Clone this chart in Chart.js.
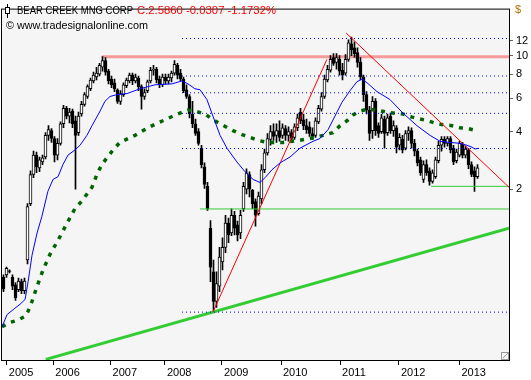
<!DOCTYPE html>
<html><head><meta charset="utf-8">
<script src="https://cdn.jsdelivr.net/npm/chart.js@4/dist/chart.umd.min.js"></script>
<style>html,body{margin:0;padding:0;background:#fff}</style>
</head><body>
<canvas id="c" width="531" height="380"></canvas>
<script>
// ---- data (x unit = bar number, weekly-ish bars) ----
const titleName = 'BEAR CREEK MNG CORP';
const titleQuote = 'C:2.5860 -0.0307 -1.1732%';
const copyright = '\u00A9 www.tradesignalonline.com';
const currency = '$';

// [open, high, low, close]
const candles = [
[0.69,0.71,0.58,0.60],[0.71,0.78,0.69,0.77],[0.746,0.755,0.728,0.74],[0.69,0.71,0.595,0.62],
[0.63,0.647,0.522,0.54],[0.595,0.684,0.58,0.66],[0.655,0.676,0.567,0.588],[0.588,0.684,0.567,0.66],
[0.85,1.68,0.81,1.62],[1.68,2.50,1.64,2.39],[2.39,3.17,2.30,3.02],[3.02,3.13,2.44,2.62],
[2.59,2.95,2.47,2.85],[2.78,3.02,2.69,2.92],[2.95,3.96,2.88,3.83],[3.83,4.31,3.61,4.11],
[4.06,4.16,3.52,3.69],[3.69,3.78,2.78,3.02],[3.02,3.69,2.85,3.48],[3.48,4.51,3.40,4.41],
[4.41,5.51,4.20,5.32],[5.32,5.45,4.67,4.84],[4.84,5.32,4.46,5.07],[5.14,5.26,4.20,4.41],
[4.57,4.84,2.00,3.83],[3.96,5.07,3.83,4.84],[4.96,5.78,4.84,5.57],[5.57,6.42,5.45,6.27],
[6.13,7.06,5.98,6.90],[6.73,7.66,6.58,7.48],[7.40,8.23,7.23,7.94],[7.76,8.73,7.48,8.13],
[8.03,9.15,7.85,8.93],[8.73,9.93,8.32,9.47],[9.47,9.82,7.94,8.23],[8.32,8.52,7.14,7.40],
[7.57,7.85,6.81,7.06],[7.23,7.57,6.50,6.73],[6.65,6.73,5.64,5.78],[5.78,6.58,5.57,6.35],
[6.27,7.23,6.13,7.06],[6.98,7.66,6.81,7.48],[7.40,8.13,7.23,7.94],[7.94,8.13,7.06,7.40],
[7.40,8.03,7.23,7.76],[7.66,7.85,6.58,6.90],[6.90,7.06,5.26,6.13],[6.13,6.73,5.91,6.42],
[6.58,7.48,6.42,7.32],[7.40,8.73,7.23,8.42],[8.42,8.93,7.94,8.52],[8.52,8.73,7.23,7.48],
[7.57,7.85,6.81,7.06],[7.06,8.03,6.90,7.76],[7.76,8.03,7.14,7.40],[7.40,8.03,7.14,7.76],
[7.66,8.32,7.32,8.13],[8.13,9.47,7.94,9.04],[8.93,9.15,7.57,7.94],[8.13,8.52,7.40,7.57],
[7.57,7.76,6.42,6.58],[6.65,7.06,5.98,6.13],[6.13,6.27,4.73,4.96],[4.96,5.78,4.20,4.41],
[4.41,4.67,3.83,3.92],[4.01,4.16,3.40,3.48],[3.28,3.40,2.59,2.69],[2.62,2.75,2.02,2.12],
[2.07,2.17,1.55,1.58],[1.25,1.37,0.655,0.78],[0.737,0.85,0.453,0.516],[0.516,0.737,0.48,0.64],
[0.62,0.99,0.58,0.88],[0.83,1.11,0.755,0.99],[0.99,1.46,0.93,1.33],[1.33,1.41,1.05,1.15],
[1.18,1.58,1.14,1.46],[1.46,1.53,1.15,1.25],[1.30,1.36,1.07,1.15],[1.18,1.55,1.10,1.46],
[1.58,2.17,1.53,2.07],[2.00,2.56,1.89,2.44],[2.39,2.47,1.82,2.00],[1.98,2.00,1.58,1.68],
[1.72,1.78,1.28,1.46],[1.49,1.93,1.46,1.84],[1.78,2.69,1.68,2.53],[2.53,3.25,2.44,3.10],
[3.10,3.92,3.02,3.69],[3.65,4.31,3.40,4.01],[4.01,4.41,3.61,3.78],[3.83,4.41,3.52,4.06],
[4.06,4.57,3.57,3.74],[3.83,4.41,3.69,4.20],[4.16,4.31,3.61,3.83],[3.83,4.25,3.57,4.01],
[3.96,4.11,3.52,3.69],[3.74,4.41,3.65,4.25],[4.20,4.96,4.06,4.73],[5.07,5.32,4.41,4.57],
[4.62,4.96,4.11,4.31],[4.31,4.67,3.92,4.11],[4.25,4.51,3.78,3.92],[3.92,4.20,3.65,3.78],
[3.83,4.73,3.74,4.57],[4.51,5.51,4.41,5.32],[5.26,6.42,5.14,6.13],[6.13,7.94,5.98,7.57],
[7.48,8.93,7.32,8.52],[8.42,10.05,8.23,9.59],[9.82,10.29,8.93,9.15],[9.26,10.29,8.52,9.82],
[9.59,10.05,7.94,8.32],[8.42,9.15,7.48,7.94],[8.13,10.17,7.94,9.59],[9.59,12.14,9.36,11.72],
[11.58,12.58,10.05,10.79],[11.05,11.85,9.82,10.29],[10.42,11.05,8.73,9.26],[9.26,9.82,7.48,7.76],
[7.76,7.94,5.78,6.27],[6.27,6.50,4.96,5.20],[5.20,5.45,3.61,3.92],[4.06,6.13,3.69,5.78],
[5.78,5.98,3.83,4.06],[4.31,4.46,3.74,3.92],[4.01,4.96,3.92,4.73],[4.67,4.84,3.28,3.92],
[3.96,4.96,3.83,4.73],[4.84,5.01,3.92,4.06],[4.06,4.57,3.78,4.31],[4.20,4.31,3.10,3.32],
[3.40,3.92,3.21,3.74],[3.65,3.83,3.10,3.21],[3.28,4.06,3.21,3.92],[3.92,4.25,3.61,4.06],
[4.06,4.20,3.28,3.48],[3.48,3.65,2.99,3.17],[3.17,3.25,2.65,2.75],[2.85,2.95,2.36,2.44],
[2.25,2.82,2.17,2.69],[2.69,2.85,2.36,2.44],[2.50,2.59,2.10,2.20],[2.20,2.53,2.15,2.44],
[2.33,2.95,2.28,2.85],[2.82,3.57,2.75,3.40],[3.40,3.78,3.17,3.65],[3.65,3.78,3.32,3.48],
[3.48,3.78,3.36,3.69],[3.69,3.78,3.10,3.21],[3.28,3.40,2.69,2.78],[2.82,3.25,2.75,3.13],
[3.02,3.57,2.95,3.48],[3.44,3.52,2.92,3.02],[3.02,3.36,2.92,3.25],[3.21,3.28,2.56,2.69],
[2.69,2.78,2.33,2.39],[2.50,2.62,1.95,2.33],[2.33,2.69,2.28,2.586]
];

const yearLabels = ['2005','2006','2007','2008','2009','2010','2011','2012','2013'];
const yearBars   = [1.1, 16.6, 35.7, 53.8, 72.8, 92.5, 112.2, 131.8, 152.0];
const priceTicks = [2, 4, 6, 8, 10, 12];

const fastMaBar = [-0.5,1.2,3.8,5.5,7.2,8.2,9.5,11.2,12.8,14.8,16.5,18.2,19.8,21.5,23.8,25.5,27.8,29.5,32.2,33.8,35.5,37.8,41.2,45.5,50.5,56.2,59.5,61.5,63.8,65.5,67.8,69.8,72.2,74.5,77.8,80.5,83.2,85.5,87.2,89.5,92.2,95.5,98.8,103.2,105.5,108.2,110.5,112.8,115.5,117.8,119.5,121.2,124.5,128.8,133.2,137.8,142.2,145.5,148.8,152.2,154.5,156.2,157.2,158.2];
const fastMaVal = [0.38,0.44,0.475,0.498,0.528,0.655,0.90,1.18,1.44,1.95,2.25,2.33,2.69,3.02,3.21,3.40,3.83,4.31,5.14,5.78,6.13,6.27,6.35,6.73,7.06,7.14,7.40,7.14,6.73,6.65,5.91,4.84,3.83,3.28,2.78,2.47,2.25,2.17,2.30,2.53,2.75,2.95,3.28,3.57,3.69,4.11,4.84,5.71,6.58,7.32,7.57,7.23,6.50,5.91,5.01,4.31,3.83,3.57,3.52,3.48,3.40,3.32,3.25,3.28];

const slowMaBar = [-0.5,2.2,4.5,7.2,8.2,9.5,11.2,13.2,15.5,18.2,21.2,23.8,26.2,29.5,31.5,33.2,36.5,38.8,43.8,46.5,48.8,51.5,53.8,56.5,58.8,61.5,63.8,67.2,69.5,72.2,76.5,79.5,82.2,84.8,87.8,90.5,93.2,96.2,98.8,102.2,106.5,109.8,112.2,114.5,116.5,118.8,121.5,124.5,127.8,130.5,133.2,136.2,138.8,141.5,144.5,146.5,149.5,152.2,154.8,157.8];
const slowMaVal = [0.38,0.40,0.41,0.43,0.458,0.516,0.62,0.755,0.91,1.08,1.33,1.58,1.74,2.05,2.47,2.75,3.21,3.52,3.83,4.06,4.25,4.46,4.62,4.84,5.01,5.20,5.14,4.96,4.67,4.41,4.06,3.87,3.74,3.61,3.52,3.52,3.52,3.57,3.61,3.69,3.83,3.96,4.31,4.57,4.90,5.14,5.26,5.20,5.07,5.01,4.96,4.78,4.67,4.57,4.41,4.36,4.31,4.20,4.16,4.06];

// horizontal levels (dotted), starting bar
const levelValues = [12.35, 7.85, 6.41, 5.0, 3.27, 0.453];
const levelFromBar = 59.5;
const lastBar = 168.5;
// trendlines: [bar, price] endpoints
const riseLine = [[69.8, 0.453], [107.8, 9.59]];
const fallLine = [[114.2, 13.2], [168.5, 2.048]];
const longSupport = [[14.1, 0.256], [168.5, 1.248]];
const resistance = [[32.8, 9.9], [168.5, 9.9]];
const support1 = [[65.5, 1.575], [168.5, 1.575]];
const support2 = [[142.5, 2.07], [168.5, 2.07]];

// ---- build datasets ----
const pts = (bars, vals) => bars.map((b, i) => ({x: b, y: vals[i]}));
const seg = s => s.map(p => ({x: p[0], y: p[1]}));
const lineDs = (data, color, width, dash, order) => ({
  type: 'line', data, borderColor: color, borderWidth: width, borderDash: dash || [],
  pointRadius: 0, fill: false, tension: 0, order
});

const datasets = [];
datasets.push({
  type: 'bar', data: candles.map((c, i) => ({x: i, y: [c[2], c[1]]})),
  backgroundColor: '#000', borderWidth: 0, barThickness: 1, grouped: false, order: 3
});
datasets.push({
  type: 'bar', data: candles.map((c, i) => ({x: i, y: [c[0], c[3]]})),
  backgroundColor: ctx => { const c = candles[ctx.dataIndex]; return c && c[3] > c[0] ? '#ffffff' : '#000000'; },
  borderColor: '#000', borderWidth: 1, borderSkipped: false, barThickness: 3, grouped: false, order: 2
});
datasets.push(lineDs(seg(resistance), '#f79a9a', 3, null, 4));
levelValues.forEach(v => datasets.push(lineDs([{x: levelFromBar, y: v}, {x: lastBar, y: v}], '#0000ff', 1, [1, 3], 1)));
datasets.push(lineDs(seg(longSupport), '#33cc33', 3, null, 1));
datasets.push(lineDs(seg(support1), '#33cc33', 1, null, 1));
datasets.push(lineDs(seg(support2), '#33cc33', 1, null, 1));
datasets.push(lineDs(pts(slowMaBar, slowMaVal), '#006400', 3.5, [4, 6], 1));
datasets.push(lineDs(pts(fastMaBar, fastMaVal), '#0000ff', 1, null, 0));
datasets.push(lineDs(seg(riseLine), '#ff0000', 1, null, 0));
datasets.push(lineDs(seg(fallLine), '#ff0000', 1, null, 0));

function fitText(ctx, text, x, y, w) {
  const m = ctx.measureText(text).width;
  ctx.save(); ctx.translate(x, y); ctx.scale(w / m, 1); ctx.fillText(text, 0, 0); ctx.restore();
}

const deco = {
  id: 'deco',
  beforeDraw(chart) {
    const {ctx, chartArea: a} = chart;
    ctx.save();
    ctx.fillStyle = '#fff'; ctx.fillRect(0, 0, chart.width, chart.height);
    ctx.fillStyle = '#f5f5f5'; ctx.fillRect(a.left, a.top, a.right - a.left, a.bottom - a.top);
    ctx.restore();
  },
  afterDraw(chart) {
    const {ctx, chartArea: a} = chart;
    ctx.save();
    ctx.strokeStyle = '#000'; ctx.lineWidth = 1;
    ctx.strokeRect(a.left - 0.5, a.top - 0.5, a.right - a.left + 1, a.bottom - a.top + 1);
    // small candle icon
    ctx.beginPath(); ctx.moveTo(7.5, 4); ctx.lineTo(7.5, 18); ctx.stroke();
    ctx.fillStyle = '#fff'; ctx.fillRect(5, 7, 5, 7); ctx.strokeRect(5.5, 7.5, 4, 6);
    ctx.font = '11px "Liberation Sans", Arial, sans-serif';
    ctx.textBaseline = 'middle'; ctx.textAlign = 'left';
    ctx.fillStyle = '#000'; fitText(ctx, titleName, 17, 11, 116);
    ctx.fillStyle = '#ff0000'; fitText(ctx, titleQuote, 137, 11, 139);
    ctx.fillStyle = '#000'; fitText(ctx, copyright, 6, 26, 142);
    ctx.fillStyle = '#b07000'; ctx.font = '11px "Liberation Sans", Arial, sans-serif';
    ctx.fillText(currency, 515, 10);
    // resize grip
    ctx.strokeStyle = '#999';
    ctx.strokeRect(501.5, 352.5, 7, 7);
    ctx.beginPath(); ctx.moveTo(503, 358); ctx.lineTo(508, 353); ctx.stroke();
    ctx.restore();
  }
};

new Chart(document.getElementById('c'), {
  type: 'bar',
  data: {datasets},
  plugins: [deco],
  options: {
    responsive: false, animation: false, devicePixelRatio: 1,
    layout: {padding: {left: 2, top: 1, right: 0, bottom: 0}},
    plugins: {legend: {display: false}, tooltip: {enabled: false}},
    scales: {
      x: {
        type: 'linear', min: -0.5, max: lastBar, offset: false,
        afterBuildTicks: s => { s.ticks = yearBars.map(v => ({value: v})); },
        afterFit: s => { s.height = 20; },
        ticks: {callback: (v, i) => yearLabels[i], autoSkip: false, maxRotation: 0, align: 'start',
                labelOffset: 2, padding: 1, color: '#000', font: {family: 'Liberation Sans', size: 11}},
        grid: {drawOnChartArea: false, drawTicks: true, tickLength: 5, tickColor: '#000', offset: false},
        border: {display: false}
      },
      y: {
        type: 'logarithmic', position: 'right', min: 0.2541, max: 17.51,
        afterBuildTicks: s => { s.ticks = priceTicks.map(v => ({value: v})); },
        afterFit: s => { s.width = 22; },
        ticks: {callback: v => String(v), padding: 3, color: '#000', font: {family: 'Liberation Sans', size: 11}},
        grid: {drawOnChartArea: false, drawTicks: true, tickLength: 4, tickColor: '#666'},
        border: {display: false}
      }
    }
  }
});
</script>
</body></html>
